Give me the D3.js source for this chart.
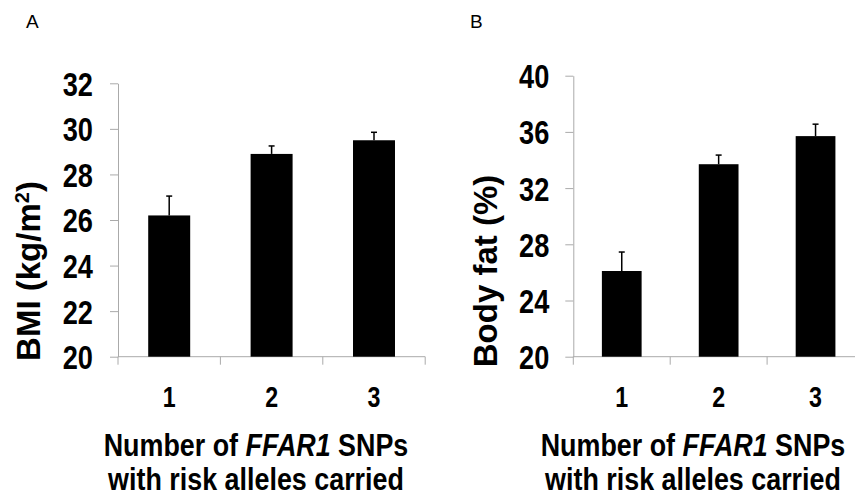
<!DOCTYPE html>
<html>
<head>
<meta charset="utf-8">
<script src="https://cdn.jsdelivr.net/npm/d3@7"></script>
<style>
  body { margin: 0; background: #fff; }
  svg text { fill: #000; }
  .narrow { font-family: "Liberation Sans", Arial, sans-serif; font-weight: bold; }
  .wide { font-family: "Liberation Sans", Arial, sans-serif; }
</style>
</head>
<body>
<svg id="chart" width="855" height="495"></svg>
<script>
// data
const categories = ["1", "2", "3"]
const bmiMean = [26.2, 28.9, 29.5]
const bmiErr = [0.85, 0.35, 0.35]
const bmiTicks = [20, 22, 24, 26, 28, 30, 32]
const fatMean = [26.1, 33.7, 35.7]
const fatErr = [1.35, 0.65, 0.85]
const fatTicks = [20, 24, 28, 32, 36, 40]

const svg = d3.select("#chart")
const squeeze = 0.8 // no Arial Narrow here, so squash bold sans horizontally
const titleSqueeze = 0.84

function drawPanel(opts) {
  const g = svg.append("g")
  const y = d3.scaleLinear()
    .domain([opts.ticks[0], opts.ticks[opts.ticks.length - 1]])
    .range([opts.bottom, opts.top])
  const x = d3.scaleBand()
    .domain(categories)
    .range([opts.left, opts.left + opts.step * categories.length])
    .paddingInner(0.59)
    .paddingOuter(0.295)

  // panel letter
  g.append("text").attr("class", "wide")
    .attr("x", opts.letterX).attr("y", 28)
    .style("font-size", "19px")
    .text(opts.letter)

  // y axis
  const yAxis = g.append("g")
    .attr("transform", `translate(${opts.left},0)`)
    .call(d3.axisLeft(y).tickValues(opts.ticks).tickSize(8).tickSizeOuter(0))
  yAxis.select(".domain").attr("stroke", "#aaa")
  yAxis.selectAll(".tick line").attr("stroke", "#aaa")
  yAxis.selectAll(".tick text")
    .attr("class", "narrow")
    .attr("x", 0)
    .attr("dy", "0.35em")
    .attr("transform", `translate(${-8 - opts.labelPad},0) scale(${squeeze},1)`)
    .style("font-size", "34px")
    .attr("fill", "#000")

  // x axis: line plus ticks on category boundaries
  const base = y(opts.ticks[0])
  const xEnd = opts.left + opts.step * categories.length
  g.append("line")
    .attr("x1", opts.left).attr("x2", xEnd)
    .attr("y1", base).attr("y2", base)
    .attr("stroke", "#aaa")
  const bounds = categories.map(c => x(c) - x.step() * x.paddingOuter()).concat([xEnd])
  g.selectAll(".xtick").data(bounds).join("line")
    .attr("x1", d => d).attr("x2", d => d)
    .attr("y1", base).attr("y2", base + 8)
    .attr("stroke", "#aaa")
  g.selectAll(".xlab").data(categories).join("text")
    .attr("class", "narrow")
    .attr("transform", d => `translate(${x(d) + x.bandwidth() / 2},407) scale(${squeeze},1)`)
    .attr("text-anchor", "middle")
    .style("font-size", "29px")
    .text(d => d)

  // bars
  g.selectAll(".bar").data(opts.mean).join("rect")
    .attr("x", (d, i) => x(categories[i]))
    .attr("y", d => y(d))
    .attr("width", x.bandwidth())
    .attr("height", d => base - y(d))
    .attr("fill", "#000")

  // error bars (upper only)
  const cap = 3
  opts.mean.forEach((m, i) => {
    const cx = x(categories[i]) + x.bandwidth() / 2
    g.append("line")
      .attr("x1", cx).attr("x2", cx)
      .attr("y1", y(m)).attr("y2", y(m + opts.err[i]))
      .attr("stroke", "#000").attr("stroke-width", 1.5)
    g.append("line")
      .attr("x1", cx - cap).attr("x2", cx + cap)
      .attr("y1", y(m + opts.err[i])).attr("y2", y(m + opts.err[i]))
      .attr("stroke", "#000").attr("stroke-width", 1.5)
  })

  // y title
  const yt = g.append("text").attr("class", "wide")
    .attr("transform", `translate(${opts.yTitleX},271) rotate(-90)`)
    .attr("text-anchor", "middle")
    .style("font-size", "33px").style("font-weight", "bold")
  yt.selectAll("tspan").data(opts.yTitle).join("tspan")
    .attr("baseline-shift", d => d.sup ? "super" : null)
    .style("font-size", d => d.sup ? "20px" : null)
    .text(d => d.t)

  // x title
  const lines = [
    [{ t: "Number of " }, { t: "FFAR1", it: true }, { t: " SNPs" }],
    [{ t: "with risk alleles carried" }]
  ]
  lines.forEach((parts, li) => {
    const t = g.append("text").attr("class", "narrow")
      .attr("transform", `translate(${opts.xTitleX},${456 + li * 34}) scale(${titleSqueeze},1)`)
      .attr("text-anchor", "middle")
      .style("font-size", "32px")
    t.selectAll("tspan").data(parts).join("tspan")
      .style("font-style", d => d.it ? "italic" : null)
      .text(d => d.t)
  })
}

drawPanel({
  letter: "A", letterX: 26,
  left: 118, top: 83.3, bottom: 356.7, step: 102.4,
  ticks: bmiTicks, mean: bmiMean, err: bmiErr, labelPad: 17,
  yTitleX: 40, xTitleX: 256,
  yTitle: [{ t: "BMI (kg/m" }, { t: "2", sup: true }, { t: ")" }]
})

drawPanel({
  letter: "B", letterX: 470,
  left: 573.3, top: 75.7, bottom: 356.7, step: 96.9,
  ticks: fatTicks, mean: fatMean, err: fatErr, labelPad: 16,
  yTitleX: 497, xTitleX: 693,
  yTitle: [{ t: "Body fat (%)" }]
})
</script>
</body>
</html>
